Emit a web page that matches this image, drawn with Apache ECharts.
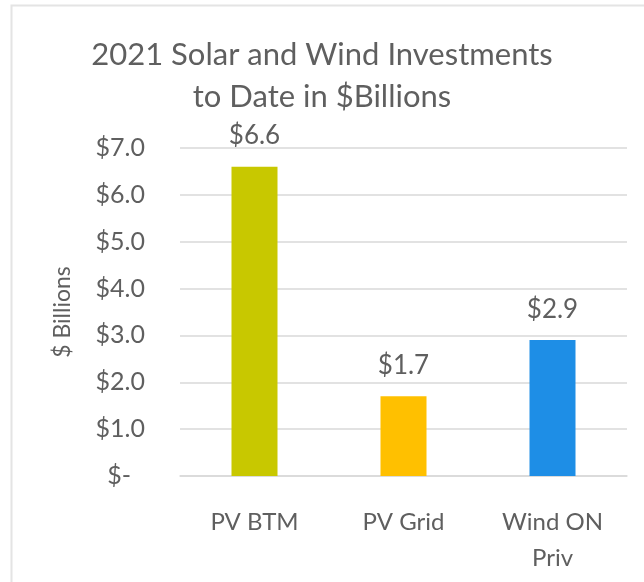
<!DOCTYPE html>
<html>
<head>
<meta charset="utf-8">
<script src="https://cdn.jsdelivr.net/npm/echarts@6/dist/echarts.min.js"></script>
<style>
  html, body { margin: 0; padding: 0; background: #fff; }
  #chart { width: 644px; height: 582px; }
</style>
</head>
<body>
<div id="chart"></div>
<script>
// Investment totals by technology, in billions of dollars
const categories = ['PV BTM', 'PV Grid', 'Wind ON\nPriv'];
const investments = [6.6, 1.7, 2.9];
const barColors = ['#C8C800', '#FFC000', '#1E8EE6'];
const yTicks = [0, 1, 2, 3, 4, 5, 6, 7];

const textColor = '#5f5f5f';
const font = 'Lato, "Open Sans", sans-serif';

const chart = echarts.init(document.getElementById('chart'), null, { renderer: 'canvas' });

chart.setOption({
  backgroundColor: '#ffffff',
  animation: false,
  graphic: [{
    type: 'rect',
    shape: { x: 11.5, y: 5.5, width: 640, height: 580 },
    style: { fill: 'none', stroke: '#e4e4e4', lineWidth: 2 },
    silent: true
  }],
  title: {
    text: '2021 Solar and Wind Investments\nto Date in $Billions',
    left: 'center',
    top: 29,
    textStyle: {
      fontFamily: font,
      fontSize: 31,
      fontWeight: 'normal',
      color: textColor,
      lineHeight: 42
    }
  },
  grid: { left: 180, right: 17, top: 148, bottom: 106 },
  xAxis: {
    type: 'category',
    data: categories,
    axisLine: { show: true, lineStyle: { color: '#d9d9d9', width: 1.5 } },
    axisTick: { show: false },
    axisLabel: {
      color: textColor,
      fontFamily: font,
      fontSize: 24,
      lineHeight: 36,
      margin: 28
    }
  },
  yAxis: {
    type: 'value',
    min: yTicks[0],
    max: yTicks[yTicks.length - 1],
    interval: 1,
    name: '$ Billions',
    nameLocation: 'middle',
    nameGap: 106,
    nameRotate: 90,
    nameTextStyle: { color: textColor, fontFamily: font, fontSize: 23 },
    axisLine: { show: false },
    axisTick: { show: false },
    splitLine: { lineStyle: { color: '#d9d9d9', width: 1.5 } },
    axisLabel: {
      color: textColor,
      fontFamily: font,
      fontSize: 25,
      margin: 35,
      formatter: v => v === 0 ? '{z|$-}' : '$' + v.toFixed(1),
      rich: {
        z: { color: textColor, fontFamily: font, fontSize: 25, padding: [0, 14, 0, 0] }
      }
    }
  },
  series: [{
    type: 'bar',
    barWidth: 46,
    data: investments.map((v, i) => ({ value: v, itemStyle: { color: barColors[i] } })),
    label: {
      show: true,
      position: 'top',
      distance: 18,
      color: textColor,
      fontFamily: font,
      fontSize: 26,
      formatter: p => '$' + p.value.toFixed(1)
    }
  }]
});
</script>
</body>
</html>
